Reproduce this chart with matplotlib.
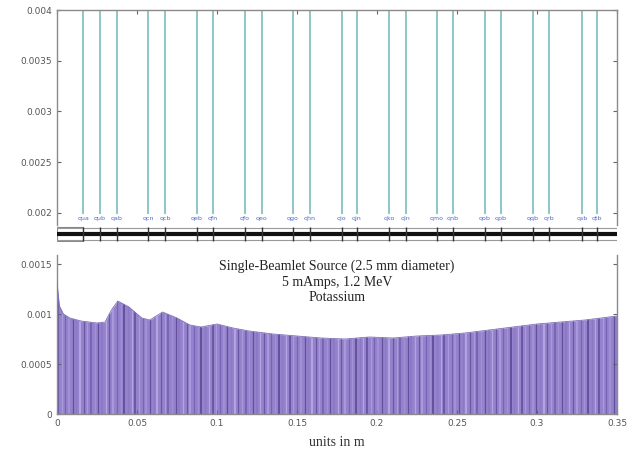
import numpy as np
import matplotlib
matplotlib.use("Agg")
import matplotlib.pyplot as plt
from matplotlib.patches import Rectangle

# ---- data ----
element_x = [0.0163, 0.0269, 0.0375, 0.0569, 0.0675, 0.0875, 0.0975, 0.1175, 0.128,
             0.1475, 0.158, 0.178, 0.1875, 0.2075, 0.218, 0.2375, 0.2475, 0.2675,
             0.2775, 0.2975, 0.3075, 0.328, 0.3375]
element_labels = ["qua", "qub", "qab", "qcn", "qcb", "qeb", "qfn", "qfo", "qeo",
                  "qgo", "qhn", "qio", "qjn", "qko", "qln", "qmo", "qnb", "qob",
                  "qpb", "qqb", "qrb", "qsb", "qtb"]
curve_x = [0.0, 0.0015, 0.004, 0.008, 0.015, 0.025, 0.030, 0.034, 0.038, 0.045,
           0.053, 0.058, 0.066, 0.075, 0.083, 0.090, 0.100, 0.110, 0.120, 0.135,
           0.150, 0.165, 0.180, 0.195, 0.210, 0.225, 0.240, 0.255, 0.270, 0.285,
           0.300, 0.315, 0.330, 0.345, 0.350]
curve_y = [0.00131, 0.00108, 0.00100, 0.00096, 0.00093, 0.00091, 0.00092, 0.00104,
           0.00113, 0.00107, 0.00096, 0.00094, 0.00102, 0.00096, 0.00089, 0.00087,
           0.00090, 0.00086, 0.00083, 0.00080, 0.00078, 0.00076, 0.00075, 0.00077,
           0.00076, 0.00078, 0.00079, 0.00081, 0.00084, 0.00087, 0.00090, 0.00092,
           0.00094, 0.00097, 0.00098]
x_ticks = [0, 0.05, 0.1, 0.15, 0.2, 0.25, 0.3, 0.35]
x_ticklabels = ["0", "0.05", "0.1", "0.15", "0.2", "0.25", "0.3", "0.35"]
top_yticks = [0.002, 0.0025, 0.003, 0.0035, 0.004]
top_yticklabels = ["0.002", "0.0025", "0.003", "0.0035", "0.004"]
bot_yticks = [0, 0.0005, 0.001, 0.0015]
bot_yticklabels = ["0", "0.0005", "0.001", "0.0015"]
title_lines = ["Single-Beamlet Source (2.5 mm diameter)", "5 mAmps, 1.2 MeV", "Potassium"]

fig = plt.figure(figsize=(6.28, 4.54), dpi=100)
L, W = 57 / 628, 560 / 628
frame_c = "#8a8a8a"
tick_c = "#666666"

# ---- top panel ----
ax1 = fig.add_axes([L, 1 - 225 / 454, W, 215 / 454])
ax1.set_xlim(0, 0.35)
ax1.set_ylim(0.00188, 0.004)
ax1.vlines(element_x, 0.00199, 0.004, color="#7dbcbc", lw=1.2)
for xv, lab in zip(element_x, element_labels):
    ax1.text(xv, 0.00197, lab, ha="center", va="top", fontsize=4.5, color="#4a6ad0")
ax1.set_yticks(top_yticks)
ax1.set_yticklabels(top_yticklabels)
ax1.set_xticks(x_ticks)
ax1.tick_params(axis="both", direction="in", length=3, color=tick_c,
                labelsize=6.5, labelcolor="#555555", left=True, right=True,
                top=True, bottom=False, labelbottom=False)
for s in ax1.spines.values():
    s.set_color(frame_c)
    s.set_linewidth(1.0)
ax1.spines["bottom"].set_visible(False)

# ---- lattice strip ----
ax2 = fig.add_axes([L, 1 - 242 / 454, W, 16 / 454])
ax2.set_xlim(0, 0.35)
ax2.set_ylim(0, 1)
ax2.axis("off")
ax2.axhline(0.88, color="#999999", lw=0.8)
ax2.axhline(0.12, color="#999999", lw=0.8)
ax2.axhline(0.5, color="#111111", lw=3.0)
ax2.vlines(element_x, 0.05, 0.95, color="#333333", lw=1.0)
ax2.add_patch(Rectangle((0.0, 0.08), element_x[0], 0.84, fill=False,
                        ec="#888888", lw=0.8))

# ---- bottom panel ----
ax3 = fig.add_axes([L, 1 - 414 / 454, W, 159 / 454])
ax3.set_xlim(0, 0.35)
ax3.set_ylim(0, 0.00159)
poly = ax3.fill_between(curve_x, 0, curve_y, color="#9482cc", lw=0, zorder=1)
clip = poly.get_paths()[0]
sx = np.arange(0.0006, 0.35, 0.0023)
shades = ["#5b4597", "#b4a4e2", "#6d58ad", "#a898d8", "#4e3c8a", "#8a74c2", "#c2b4ea"]
cols = [shades[i % len(shades)] for i in range(len(sx))]
lws = [0.9 if i % 3 else 1.4 for i in range(len(sx))]
vl = ax3.vlines(sx, 0, 0.0016, colors=cols, linewidths=lws, alpha=0.7, zorder=2)
vl.set_clip_path(clip, ax3.transData)
ax3.plot(curve_x, curve_y, color="#8070b8", lw=0.6, zorder=3)
ax3.set_xticks(x_ticks)
ax3.set_xticklabels(x_ticklabels)
ax3.set_yticks(bot_yticks)
ax3.set_yticklabels(bot_yticklabels)
ax3.tick_params(axis="both", direction="in", length=3, color=tick_c,
                labelsize=6.5, labelcolor="#555555", left=True, right=True,
                top=False, bottom=True)
for s in ax3.spines.values():
    s.set_color(frame_c)
    s.set_linewidth(1.0)
ax3.spines["top"].set_visible(False)
for i, t in enumerate(title_lines):
    ax3.text(0.5, 0.93 - i * 0.1, t, transform=ax3.transAxes, ha="center",
             va="center", fontsize=10, family="Liberation Serif", color="#222222")
ax3.set_xlabel("units in m", fontsize=10, family="Liberation Serif",
               color="#333333", labelpad=6)

fig.savefig("out.png", dpi=100)
